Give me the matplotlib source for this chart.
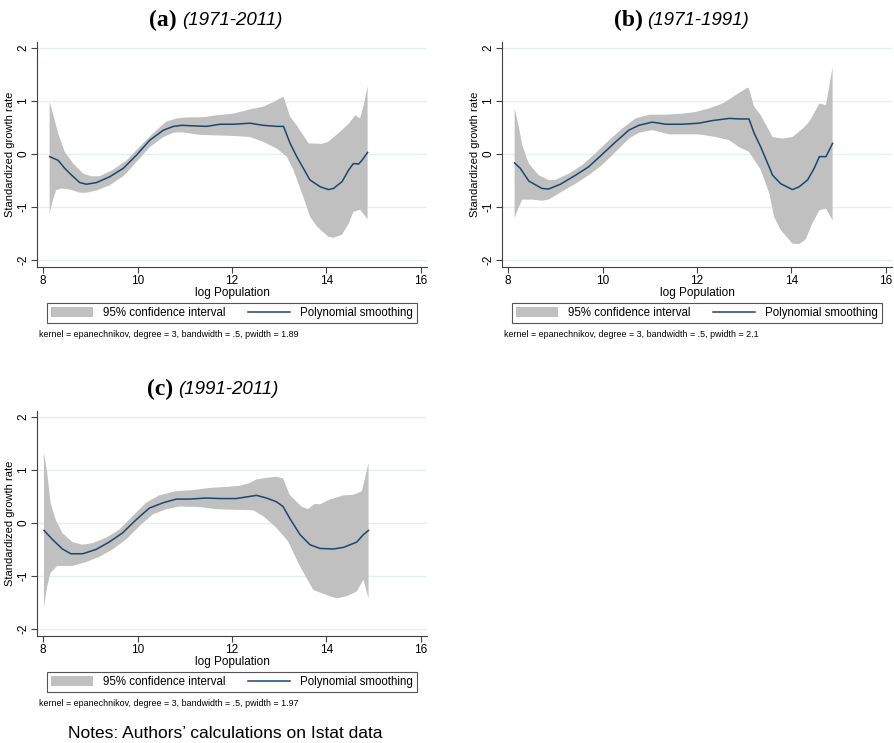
import matplotlib.pyplot as plt
import numpy as np
from matplotlib.patches import Patch
from matplotlib.lines import Line2D

plt.rcParams['font.family'] = ['Liberation Sans', 'DejaVu Sans']

# --- panel (a) 1971-2011 ---
a_line_x = [8.14, 8.32, 8.46, 8.57, 8.78, 8.92, 9.13, 9.41, 9.70, 9.98, 10.26, 10.55, 10.76, 10.94,
            11.18, 11.46, 11.75, 12.03, 12.38, 12.66, 12.95, 13.09, 13.23, 13.37, 13.65, 13.87,
            14.04, 14.15, 14.33, 14.47, 14.57, 14.68, 14.75, 14.87]
a_line = [-0.05, -0.12, -0.27, -0.37, -0.54, -0.57, -0.54, -0.43, -0.27, -0.02, 0.26, 0.45, 0.52, 0.54,
          0.53, 0.52, 0.56, 0.56, 0.58, 0.54, 0.52, 0.52, 0.20, -0.05, -0.49, -0.62,
          -0.67, -0.65, -0.52, -0.30, -0.18, -0.19, -0.12, 0.03]
a_up_x = [8.14, 8.21, 8.32, 8.46, 8.64, 8.85, 9.02, 9.20, 9.48, 9.77, 10.05, 10.33, 10.61, 10.83,
          11.04, 11.32, 11.46, 11.68, 12.03, 12.38, 12.66, 12.88, 13.09, 13.23, 13.37, 13.62,
          13.90, 14.04, 14.29, 14.47, 14.61, 14.71, 14.78, 14.87]
a_up = [0.98, 0.76, 0.39, 0.04, -0.18, -0.37, -0.42, -0.42, -0.30, -0.12, 0.14, 0.39, 0.61, 0.67,
        0.69, 0.69, 0.70, 0.73, 0.76, 0.84, 0.89, 0.98, 1.08, 0.70, 0.54, 0.20,
        0.19, 0.23, 0.42, 0.57, 0.73, 0.67, 0.89, 1.28]
a_lo_x = [8.14, 8.21, 8.28, 8.39, 8.57, 8.78, 8.92, 9.13, 9.41, 9.70, 9.98, 10.26, 10.55, 10.76,
          10.94, 11.32, 11.68, 12.03, 12.38, 12.66, 12.95, 13.16, 13.30, 13.51, 13.65, 13.80,
          14.04, 14.15, 14.33, 14.47, 14.57, 14.71, 14.87]
a_lo = [-1.12, -0.87, -0.68, -0.65, -0.67, -0.73, -0.73, -0.69, -0.59, -0.42, -0.15, 0.13, 0.32, 0.40,
        0.41, 0.36, 0.35, 0.34, 0.32, 0.23, 0.10, -0.05, -0.30, -0.81, -1.18, -1.37,
        -1.56, -1.58, -1.52, -1.31, -1.09, -1.05, -1.23]

# --- panel (b) 1971-1991 ---
b_line_x = [8.14, 8.26, 8.44, 8.72, 8.86, 9.11, 9.43, 9.71, 9.99, 10.28, 10.56, 10.77, 11.05, 11.34,
            11.69, 12.04, 12.33, 12.68, 12.89, 13.10, 13.21, 13.35, 13.60, 13.77, 14.02, 14.16,
            14.34, 14.48, 14.59, 14.73, 14.87]
b_line = [-0.17, -0.27, -0.51, -0.65, -0.66, -0.57, -0.40, -0.24, -0.01, 0.23, 0.45, 0.54, 0.60, 0.56,
          0.56, 0.58, 0.63, 0.67, 0.66, 0.66, 0.39, 0.13, -0.40, -0.56, -0.67, -0.62,
          -0.49, -0.27, -0.05, -0.05, 0.20]
b_up_x = [8.14, 8.23, 8.30, 8.44, 8.65, 8.86, 9.00, 9.29, 9.57, 9.85, 10.14, 10.42, 10.70, 10.99,
          11.34, 11.69, 11.97, 12.26, 12.54, 12.82, 13.07, 13.10, 13.21, 13.35, 13.60, 13.81,
          14.02, 14.24, 14.38, 14.59, 14.73, 14.87]
b_up = [0.86, 0.51, 0.17, -0.18, -0.40, -0.49, -0.49, -0.37, -0.21, 0.01, 0.26, 0.48, 0.67, 0.74,
        0.74, 0.76, 0.79, 0.86, 0.95, 1.11, 1.25, 1.23, 0.89, 0.73, 0.32, 0.29,
        0.32, 0.48, 0.61, 0.95, 0.92, 1.64]
b_lo_x = [8.14, 8.23, 8.30, 8.51, 8.72, 8.86, 9.14, 9.43, 9.71, 9.99, 10.28, 10.56, 10.77, 11.05,
          11.41, 11.69, 12.04, 12.40, 12.68, 12.89, 13.10, 13.35, 13.53, 13.63, 13.77, 14.02,
          14.16, 14.30, 14.44, 14.59, 14.73, 14.87]
b_lo = [-1.20, -1.00, -0.86, -0.86, -0.88, -0.86, -0.71, -0.56, -0.40, -0.21, 0.04, 0.29, 0.40, 0.45,
        0.37, 0.37, 0.37, 0.32, 0.26, 0.13, 0.04, -0.30, -0.74, -1.18, -1.43, -1.69,
        -1.70, -1.61, -1.31, -1.06, -1.03, -1.25]

# --- panel (c) 1991-2011 ---
c_line_x = [8.02, 8.20, 8.41, 8.59, 8.84, 9.12, 9.40, 9.68, 9.97, 10.25, 10.54, 10.82, 11.10, 11.45,
            11.74, 12.09, 12.30, 12.52, 12.73, 12.94, 13.08, 13.22, 13.44, 13.65, 13.86, 14.15,
            14.36, 14.64, 14.78, 14.89]
c_line = [-0.14, -0.31, -0.49, -0.58, -0.58, -0.50, -0.36, -0.19, 0.06, 0.28, 0.38, 0.45, 0.45, 0.47,
          0.46, 0.46, 0.49, 0.52, 0.47, 0.40, 0.31, 0.09, -0.22, -0.41, -0.48, -0.49,
          -0.46, -0.36, -0.22, -0.14]
c_up_x = [8.02, 8.09, 8.16, 8.27, 8.41, 8.62, 8.84, 9.05, 9.33, 9.61, 9.90, 10.18, 10.46, 10.82,
          11.17, 11.53, 11.88, 12.16, 12.37, 12.52, 12.73, 12.94, 13.08, 13.22, 13.47, 13.61,
          13.75, 13.86, 14.07, 14.36, 14.57, 14.75, 14.89]
c_up = [1.33, 0.94, 0.38, 0.06, -0.19, -0.36, -0.41, -0.38, -0.28, -0.13, 0.13, 0.38, 0.52, 0.60,
        0.62, 0.66, 0.68, 0.70, 0.75, 0.82, 0.85, 0.87, 0.84, 0.53, 0.31, 0.26,
        0.36, 0.35, 0.44, 0.52, 0.53, 0.60, 1.13]
c_lo_x = [8.02, 8.09, 8.16, 8.30, 8.62, 8.90, 9.19, 9.47, 9.76, 10.04, 10.32, 10.61, 10.89, 11.31,
          11.67, 12.02, 12.45, 12.66, 12.94, 13.19, 13.44, 13.72, 13.86, 14.07, 14.22, 14.43,
          14.64, 14.78, 14.89]
c_lo = [-1.58, -1.19, -0.94, -0.81, -0.81, -0.74, -0.64, -0.50, -0.31, -0.06, 0.16, 0.26, 0.31, 0.30,
        0.26, 0.25, 0.24, 0.13, -0.09, -0.35, -0.82, -1.26, -1.31, -1.38, -1.42, -1.38,
        -1.29, -1.07, -1.42]

y_ticks = [-2, -1, 0, 1, 2]
x_ticks = [8, 10, 12, 14, 16]

band_color = '#c0c0c0'
line_color = '#1a476f'
grid_color = '#e6eff0'
axis_color = '#404040'

W, H = 895, 743


def draw_panel(fig, left, top, tag, period, split, up_x, up, lo_x, lo, line_x, line_y, pwidth):
    """Ett Stata-liknande lpolyci-diagram."""
    ax = fig.add_axes([left / W, (H - top - 225) / H, 390 / W, 225 / H])
    ax.set_xlim(7.873, 16.127)
    ax.set_ylim(-2.13, 2.11)
    for y in y_ticks:
        ax.axhline(y, color=grid_color, lw=1.0, zorder=0)
    poly_x = np.concatenate([up_x, lo_x[::-1]])
    poly_y = np.concatenate([up, lo[::-1]])
    ax.fill(poly_x, poly_y, color=band_color, lw=0, zorder=1)
    ax.plot(line_x, line_y, color=line_color, lw=1.1, zorder=2)

    for s in ['top', 'right']:
        ax.spines[s].set_visible(False)
    for s in ['left', 'bottom']:
        ax.spines[s].set_color(axis_color)
        ax.spines[s].set_linewidth(0.8)
    ax.set_xticks(x_ticks)
    ax.set_yticks(y_ticks)
    ax.set_yticklabels([str(t) for t in y_ticks], rotation=90, va='center')
    ax.tick_params(colors=axis_color, labelcolor='black', labelsize=8.5, length=4, width=0.8)
    ax.tick_params(axis='y', pad=1.5)
    ax.tick_params(axis='x', pad=2)
    ax.set_xlabel('log Population', fontsize=8.5, labelpad=0)
    ax.set_ylabel('Standardized growth rate', fontsize=8, labelpad=1.5)

    ax.text(split, 1.094, tag, transform=ax.transAxes, ha='right', va='center',
            fontsize=17, fontweight='bold', family=['Liberation Serif'])
    ax.text(split + 0.012, 1.094, period, transform=ax.transAxes, ha='left', va='center',
            fontsize=13.5, style='italic')

    handles = [Patch(facecolor=band_color, edgecolor='none'),
               Line2D([], [], color=line_color, lw=1.1)]
    leg = ax.legend(handles, ['95% confidence interval', 'Polynomial smoothing'],
                    loc='upper center', bbox_to_anchor=(0.5, -0.16),
                    ncol=2, fontsize=8.3, handlelength=3.65, handleheight=0.95,
                    handletextpad=0.87, columnspacing=1.9, borderpad=0.35, borderaxespad=0,
                    fancybox=False, framealpha=1, edgecolor='#555555')
    leg.get_frame().set_linewidth(0.8)

    ax.text(0.005, -0.298, 'kernel = epanechnikov, degree = 3, bandwidth = .5, pwidth = ' + pwidth,
            transform=ax.transAxes, ha='left', va='center', fontsize=6.4)
    return ax


fig = plt.figure(figsize=(W / 100, H / 100), dpi=100)
draw_panel(fig, 37, 42, '(a)', '(1971-2011)', 0.359, a_up_x, a_up, a_lo_x, a_lo, a_line_x, a_line, '1.89')
draw_panel(fig, 502, 42, '(b)', '(1971-1991)', 0.36, b_up_x, b_up, b_lo_x, b_lo, b_line_x, b_line, '2.1')
draw_panel(fig, 37, 411, '(c)', '(1991-2011)', 0.349, c_up_x, c_up, c_lo_x, c_lo, c_line_x, c_line, '1.97')

fig.text(225 / W, (H - 733) / H, 'Notes: Authors\u2019 calculations on Istat data',
         ha='center', va='center', fontsize=12.5)

fig.savefig('out.png', dpi=100)
